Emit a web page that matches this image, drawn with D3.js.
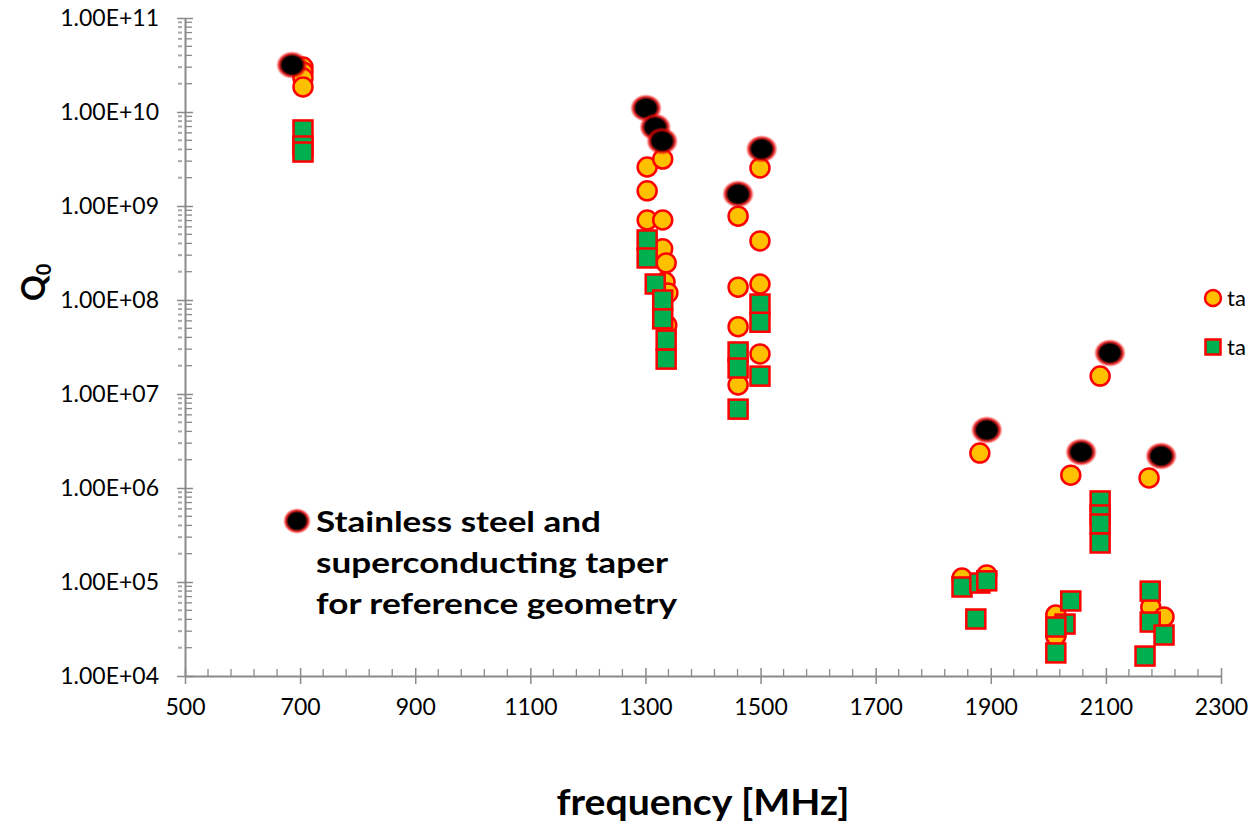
<!DOCTYPE html>
<html>
<head>
<meta charset="utf-8">
<script src="https://cdn.jsdelivr.net/npm/d3@7"></script>
<style>
  body { margin: 0; background: #fff; }
  svg { display: block; }
  text { font-family: Lato, "Liberation Sans", sans-serif; fill: #000; }
</style>
</head>
<body>
<div id="chart"></div>
<script>
// Q0 vs frequency, three sets of points
const stainlessFreq = [686, 1301, 1317, 1329, 1461, 1502, 1893, 2057, 2107, 2196]
const stainlessQ = [3.16e10, 1.10e10, 6.9e9, 4.9e9, 1.34e9, 4.04e9, 4.14e6, 2.41e6, 2.73e7, 2.19e6]

const circleFreq = [705, 705, 705, 705, 1303, 1303, 1303, 1330, 1330, 1330, 1336, 1334, 1339, 1337,
  1461, 1461, 1461, 1461, 1499, 1499, 1499, 1499, 1881, 2039, 2090, 2175, 1850, 1893, 2013, 2013, 2178, 2201]
const circleQ = [3.01e10, 2.67e10, 2.30e10, 1.85e10, 2.6e9, 1.45e9, 7.1e8, 3.16e9, 7.1e8, 3.5e8, 2.48e8, 1.55e8, 1.19e8, 5.4e7,
  7.8e8, 1.37e8, 5.2e7, 1.25e7, 2.54e9, 4.25e8, 1.48e8, 2.67e7, 2.35e6, 1.37e6, 1.55e7, 1.28e6, 1.10e5, 1.19e5, 4.46e4, 2.67e4, 5.4e4, 4.25e4]

const squareFreq = [705, 705, 705, 1303, 1303, 1317, 1330, 1330, 1336, 1336, 1499, 1499, 1499, 1461, 1461, 1461,
  2090, 2090, 2090, 2090, 1850, 1881, 1893, 1874, 2039, 2029, 2013, 2013, 2177, 2177, 2201, 2168]
const squareQ = [6.44e9, 4.35e9, 3.75e9, 4.35e8, 2.8e8, 1.48e8, 1.0e8, 6.3e7, 3.75e7, 2.35e7, 9.06e7, 5.8e7, 1.55e7, 2.8e7, 1.89e7, 6.9e6,
  7.28e5, 5.17e5, 4.14e5, 2.6e5, 8.85e4, 9.75e4, 1.03e5, 4.04e4, 6.28e4, 3.57e4, 3.32e4, 1.76e4, 8.0e4, 3.75e4, 2.73e4, 1.63e4]

const xTicks = [500, 700, 900, 1100, 1300, 1500, 1700, 1900, 2100, 2300]
const yTicks = [1e4, 1e5, 1e6, 1e7, 1e8, 1e9, 1e10, 1e11]
const legendLabels = ['ta', 'ta']
const noteLines = ['Stainless steel and', 'superconducting taper', 'for reference geometry']

const W = 1249, H = 829
const axisGrey = '#8a8a8a'

const svg = d3.select('#chart').append('svg')
  .attr('width', W).attr('height', H)

// black dots with a fuzzy red rim
const defs = svg.append('defs')
const glow = defs.append('radialGradient').attr('id', 'blackGlow')
glow.append('stop').attr('offset', '0%').attr('stop-color', '#000')
glow.append('stop').attr('offset', '62%').attr('stop-color', '#000')
glow.append('stop').attr('offset', '80%').attr('stop-color', '#e00000').attr('stop-opacity', 0.85)
glow.append('stop').attr('offset', '100%').attr('stop-color', '#ff2020').attr('stop-opacity', 0)

const x = d3.scaleLinear().domain([500, 2300]).range([185, 1221])
const y = d3.scaleLog().domain([1e4, 1e11]).range([676, 18])

// ---- axes ----
const xAxis = svg.append('g').attr('transform', `translate(0,${y(1e4)})`)
  .call(d3.axisBottom(x).tickValues(xTicks).tickSizeInner(8).tickSizeOuter(0).tickPadding(15).tickFormat(d3.format('d')))
xAxis.select('.domain').attr('stroke', axisGrey).attr('stroke-width', 2)
xAxis.selectAll('.tick line').attr('stroke', axisGrey).attr('stroke-width', 1.5).attr('y1', -8)
xAxis.selectAll('.tick text').style('font-size', '23px').attr('fill', '#111')

const xMinor = d3.range(540, 2300, 40).filter(v => (v - 500) % 200 !== 0)
xAxis.selectAll('line.minor').data(xMinor).join('line')
  .attr('class', 'minor')
  .attr('x1', d => x(d)).attr('x2', d => x(d))
  .attr('y1', 0).attr('y2', -7)
  .attr('stroke', axisGrey).attr('stroke-width', 1.3)

const yAxis = svg.append('g').attr('transform', `translate(${x(500)},0)`)
  .call(d3.axisLeft(y).tickValues(yTicks).tickSizeInner(8).tickSizeOuter(0).tickPadding(18)
    .tickFormat(d => '1.00E+' + String(Math.round(Math.log10(d))).padStart(2, '0')))
yAxis.select('.domain').attr('stroke', axisGrey).attr('stroke-width', 2)
yAxis.selectAll('.tick line').attr('stroke', axisGrey).attr('stroke-width', 1.5).attr('x1', 8)
yAxis.selectAll('.tick text').style('font-size', '23px').attr('fill', '#111')

const yMinor = []
for (let k = 4; k < 11; k++) for (let m = 2; m <= 9; m++) yMinor.push(m * Math.pow(10, k))
yAxis.selectAll('line.minorR').data(yMinor).join('line')
  .attr('class', 'minorR')
  .attr('x1', 0).attr('x2', 7)
  .attr('y1', d => y(d)).attr('y2', d => y(d))
  .attr('stroke', axisGrey).attr('stroke-width', 1.3)
yAxis.selectAll('line.minorL').data(yMinor).join('line')
  .attr('class', 'minorL')
  .attr('x1', -7).attr('x2', -3)
  .attr('y1', d => y(d)).attr('y2', d => y(d))
  .attr('stroke', '#a8a8a8').attr('stroke-width', 2)

// ---- points ----
const circles = d3.zip(circleFreq, circleQ)
const squares = d3.zip(squareFreq, squareQ)
const blacks = d3.zip(stainlessFreq, stainlessQ)
const sq = 19

svg.append('g').selectAll('circle').data(circles).join('circle')
  .attr('cx', d => x(d[0])).attr('cy', d => y(d[1])).attr('r', 9.5)
  .attr('fill', '#ffc000').attr('stroke', '#ff0000').attr('stroke-width', 2.5)

svg.append('g').selectAll('rect').data(squares).join('rect')
  .attr('x', d => x(d[0]) - sq / 2).attr('y', d => y(d[1]) - sq / 2)
  .attr('width', sq).attr('height', sq)
  .attr('fill', '#00b050').attr('stroke', '#ff0000').attr('stroke-width', 2.5)

svg.append('g').selectAll('ellipse').data(blacks).join('ellipse')
  .attr('cx', d => x(d[0])).attr('cy', d => y(d[1]))
  .attr('rx', 16).attr('ry', 14)
  .attr('fill', 'url(#blackGlow)')

// ---- annotation ----
svg.append('ellipse').attr('cx', 297).attr('cy', 521).attr('rx', 14).attr('ry', 13)
  .attr('fill', 'url(#blackGlow)')
const noteWidths = [285, 352, 361]
svg.append('g').selectAll('text').data(noteLines).join('text')
  .attr('x', 316).attr('y', (d, i) => 532 + i * 41)
  .attr('textLength', (d, i) => noteWidths[i]).attr('lengthAdjust', 'spacingAndGlyphs')
  .style('font-size', '29px').style('font-weight', 700).attr('fill', '#1a1a1a')
  .text(d => d)

// ---- legend (cut off at right edge) ----
const leg = svg.append('g')
leg.append('circle').attr('cx', 1213).attr('cy', 298).attr('r', 8)
  .attr('fill', '#ffc000').attr('stroke', '#ff0000').attr('stroke-width', 2.5)
leg.append('rect').attr('x', 1205.5).attr('y', 339.5).attr('width', 15).attr('height', 15)
  .attr('fill', '#00b050').attr('stroke', '#ff0000').attr('stroke-width', 2.5)
leg.selectAll('text').data(legendLabels).join('text')
  .attr('x', 1227).attr('y', (d, i) => 306 + i * 49)
  .style('font-size', '22px').text(d => d)

// ---- axis titles ----
svg.append('text').attr('x', 703).attr('y', 815).attr('text-anchor', 'middle')
  .attr('textLength', 293).attr('lengthAdjust', 'spacingAndGlyphs')
  .style('font-size', '36px').style('font-weight', 700)
  .text('frequency [MHz]')

const qt = svg.append('text').attr('transform', 'translate(45,301) rotate(-90)')
  .style('font-size', '32px').style('font-weight', 700)
qt.append('tspan').text('Q')
qt.append('tspan').attr('dy', 6).style('font-size', '20px').text('0')
</script>
</body>
</html>
